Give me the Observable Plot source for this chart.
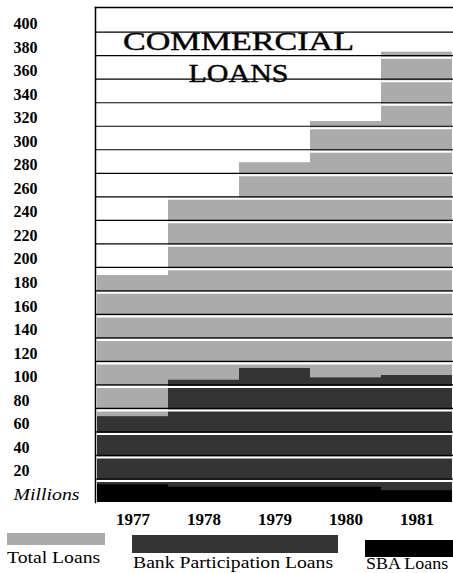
<!DOCTYPE html>
<html><head><meta charset="utf-8">
<script src="https://cdn.jsdelivr.net/npm/d3@7"></script>
<script src="https://cdn.jsdelivr.net/npm/@observablehq/plot@0.6"></script>
<style>
body{margin:0;background:#fff;}
#wrap{position:relative;width:453px;height:573px;overflow:hidden;font-family:"Liberation Serif",serif;background:#fff;}
#wrap svg{position:absolute;left:0;top:0;}
.sw{position:absolute;}
.lt{position:absolute;font-size:16px;line-height:16px;white-space:nowrap;transform-origin:0 0;color:#000;}
</style></head><body><div id="wrap"></div>
<script>
// ---- data ----
const years = ["1977", "1978", "1979", "1980", "1981"];
const totalLoans = [193, 259, 289, 324, 383];
const bankParticipationLoans = [73, 104, 114, 106, 108];
const sbaLoans = [15, 13, 13, 13, 10];
const yTickValues = [20, 40, 60, 80, 100, 120, 140, 160, 180, 200, 220, 240, 260, 280, 300, 320, 340, 360, 380, 400];
const zeroLabel = ["Millions"];
const titleLines = ["COMMERCIAL", "LOANS"];
const seriesNames = ["Total Loans", "Bank Participation Loans", "SBA Loans"];

// ---- styles ----
const fills = ["#ababab", "#343434", "#000000"];

const rows = years.map((year, i) => ({
  year, total: totalLoans[i], bank: bankParticipationLoans[i], sba: sbaLoans[i]
}));

const chart = Plot.plot({
  width: 453,
  height: 530,
  marginLeft: 95,
  marginRight: 0,
  marginTop: 7,
  marginBottom: 28,
  x: {domain: years, padding: 0, axis: null},
  y: {domain: [0, 421], axis: null},
  style: {fontFamily: "'Liberation Serif', serif", background: "white", color: "black"},
  marks: [
    Plot.barY(rows, {x: "year", y: "total", fill: fills[0]}),
    Plot.barY(rows, {x: "year", y: "bank", fill: fills[1]}),
    Plot.barY(rows, {x: "year", y: "sba", fill: fills[2]}),
    Plot.ruleY(yTickValues, {stroke: "white", strokeWidth: 2, dy: 2}),
    Plot.ruleY(yTickValues, {stroke: "black", strokeWidth: 1.2}),
    Plot.frame({anchor: "left", strokeWidth: 1.5}),
    Plot.frame({anchor: "top", strokeWidth: 1.5}),
    Plot.axisY(yTickValues, {tickSize: 0, tickPadding: 0, textAnchor: "start", dx: -82, dy: -8, fontSize: 16, fontWeight: "bold", fontFamily: "'Liberation Serif', serif", label: null}),
    Plot.text(zeroLabel, {y: () => 0, text: d => d, frameAnchor: "left", dx: -82, dy: -8, textAnchor: "start", fontStyle: "italic", fontSize: 17}),
    Plot.axisX({tickSize: 0, tickPadding: 10, fontSize: 17, fontWeight: "bold", fontFamily: "'Liberation Serif', serif", label: null}),
    Plot.text([titleLines[0]], {frameAnchor: "top-left", dx: 143, dy: 42, lineAnchor: "bottom", textAnchor: "middle", fontSize: 25, fill: "black", stroke: "black", strokeWidth: 0.4}),
    Plot.text([titleLines[1]], {frameAnchor: "top-left", dx: 143, dy: 74, lineAnchor: "bottom", textAnchor: "middle", fontSize: 25, fill: "black", stroke: "black", strokeWidth: 0.4})
  ]
});

const wrap = document.getElementById("wrap");
wrap.appendChild(chart);

// horizontal stretch of the wide typeface
const stretch = {"COMMERCIAL": 231, "LOANS": 100, "Millions": 66};
d3.select(chart).selectAll("text").each(function () {
  const t = this.textContent;
  if (stretch[t]) {
    this.setAttribute("textLength", stretch[t]);
    this.setAttribute("lengthAdjust", "spacingAndGlyphs");
  }
});

// legend (below the chart)
const legendBoxes = [
  {sw: [7, 533, 98, 12], lt: [7, 550], sx: 1.23},
  {sw: [132, 535, 206, 18], lt: [133, 555], sx: 1.23},
  {sw: [365, 540, 88, 17], lt: [366, 556], sx: 1.12}
];
seriesNames.forEach((name, i) => {
  const b = legendBoxes[i];
  const s = document.createElement("div");
  s.className = "sw";
  s.style.cssText = `left:${b.sw[0]}px;top:${b.sw[1]}px;width:${b.sw[2]}px;height:${b.sw[3]}px;background:${fills[i]}`;
  wrap.appendChild(s);
  const l = document.createElement("div");
  l.className = "lt";
  l.style.left = b.lt[0] + "px";
  l.style.top = b.lt[1] + "px";
  l.style.transform = `scaleX(${b.sx})`;
  l.textContent = name;
  wrap.appendChild(l);
});
</script></body></html>
